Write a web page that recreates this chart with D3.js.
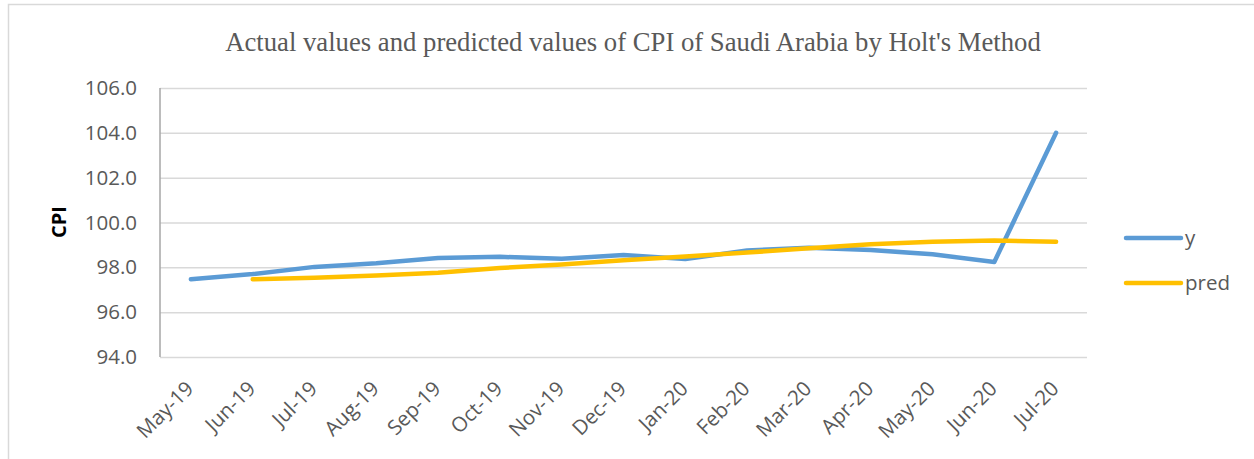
<!DOCTYPE html>
<html>
<head>
<meta charset="utf-8">
<script src="https://cdn.jsdelivr.net/npm/d3@7"></script>
<style>
  body { margin: 0; background: #fff; }
  svg { display: block; }
</style>
</head>
<body>
<div id="chart"></div>
<script>
// data
var months = ["May-19", "Jun-19", "Jul-19", "Aug-19", "Sep-19", "Oct-19", "Nov-19", "Dec-19",
              "Jan-20", "Feb-20", "Mar-20", "Apr-20", "May-20", "Jun-20", "Jul-20"];
var yValues = [97.47, 97.70, 98.02, 98.18, 98.42, 98.47, 98.38, 98.55,
               98.37, 98.75, 98.87, 98.77, 98.58, 98.24, 104.0];
var predValues = [null, 97.47, 97.53, 97.64, 97.76, 97.97, 98.13, 98.32,
                  98.48, 98.66, 98.85, 99.03, 99.14, 99.20, 99.14];
var yTicks = [94, 96, 98, 100, 102, 104, 106];
var seriesNames = ["y", "pred"];

var W = 1254, H = 459;
var margin = {top: 88, right: 167, bottom: 102, left: 160};
var width = W - margin.left - margin.right,   // 927
    height = H - margin.top - margin.bottom;  // ~269

var colors = {y: "#5B9BD5", pred: "#FFC000"};
var labelFont = "'Open Sans', 'Noto Sans', sans-serif";

var svg = d3.select("#chart").append("svg")
    .attr("width", W)
    .attr("height", H);

// outer chart frame (runs off the right and bottom of the picture)
svg.append("rect")
    .attr("x", 8.5).attr("y", 4.5)
    .attr("width", W + 20).attr("height", H + 20)
    .attr("fill", "none")
    .attr("stroke", "#D9D9D9")
    .attr("stroke-width", 1.5);

svg.append("text")
    .attr("x", 633)
    .attr("y", 51)
    .attr("text-anchor", "middle")
    .attr("font-family", "'Liberation Serif', 'Times New Roman', serif")
    .attr("font-size", 26.7)
    .attr("fill", "#595959")
    .text("Actual values and predicted values of CPI of Saudi Arabia by Holt's Method");

var g = svg.append("g")
    .attr("transform", "translate(" + margin.left + "," + margin.top + ")");

var x = d3.scaleBand().domain(months).range([0, width]);
var y = d3.scaleLinear().domain([94, 106]).range([height, 0]);

// gridlines
g.append("g")
    .attr("class", "grid")
    .call(d3.axisLeft(y).tickValues(yTicks).tickSize(-width).tickFormat(""))
    .call(function(s){ s.select(".domain").remove(); })
    .selectAll("line")
    .attr("stroke", "#D9D9D9")
    .attr("stroke-width", 1.5);

// y axis labels
var yAxis = g.append("g")
    .call(d3.axisLeft(y).tickValues(yTicks).tickSize(0).tickPadding(23).tickFormat(d3.format(".1f")));
yAxis.select(".domain").remove();
yAxis.selectAll("text")
    .attr("font-family", labelFont)
    .attr("font-size", 20.5)
    .attr("fill", "#595959");

// left axis line
g.append("line")
    .attr("x1", 0).attr("x2", 0)
    .attr("y1", 0).attr("y2", height)
    .attr("stroke", "#A6A6A6")
    .attr("stroke-width", 1.5);

// x axis
var xAxis = g.append("g")
    .attr("transform", "translate(0," + height + ")")
    .call(d3.axisBottom(x).tickSize(0).tickPadding(0));
xAxis.select(".domain").remove();
xAxis.selectAll("text")
    .attr("font-family", labelFont)
    .attr("font-size", 20.5)
    .attr("fill", "#595959")
    .attr("text-anchor", "end")
    .attr("dy", 0)
    .attr("transform", "translate(4,33) rotate(-45)");

// axis title
svg.append("text")
    .attr("transform", "translate(66,222) rotate(-90)")
    .attr("text-anchor", "middle")
    .attr("font-family", labelFont)
    .attr("font-size", 20)
    .attr("font-weight", "bold")
    .attr("fill", "#000")
    .text("CPI");

// lines
var line = d3.line()
    .defined(function(d){ return d != null; })
    .x(function(d, i){ return x(months[i]) + x.bandwidth() / 2; })
    .y(function(d){ return y(d); });

[yValues, predValues].forEach(function(vals, k){
    g.append("path")
        .datum(vals)
        .attr("fill", "none")
        .attr("stroke", colors[seriesNames[k]])
        .attr("stroke-width", 4.5)
        .attr("stroke-linecap", "round")
        .attr("stroke-linejoin", "round")
        .attr("d", line);
});

// legend
var legend = svg.append("g").attr("transform", "translate(1126,238)");
seriesNames.forEach(function(name, i){
    var row = legend.append("g").attr("transform", "translate(0," + i * 45 + ")");
    row.append("line")
        .attr("x1", 0).attr("x2", 55)
        .attr("stroke", colors[name])
        .attr("stroke-width", 4.5)
        .attr("stroke-linecap", "round");
    row.append("text")
        .attr("x", 59)
        .attr("y", 7)
        .attr("font-family", labelFont)
        .attr("font-size", 20.5)
        .attr("fill", "#595959")
        .text(name);
});
</script>
</body>
</html>
